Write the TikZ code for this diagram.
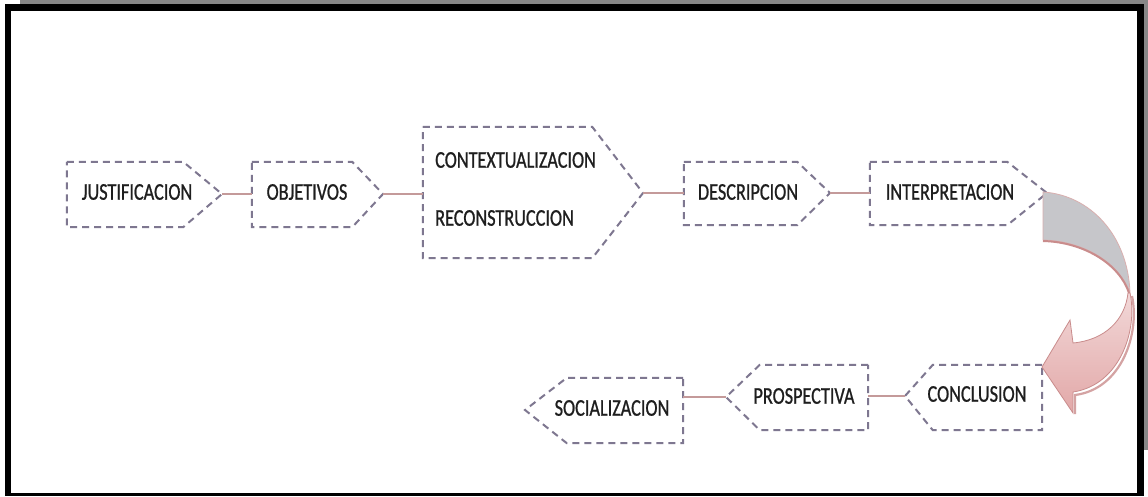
\documentclass[tikz,border=0pt]{standalone}
\usepackage{fontspec}
\setmainfont[FakeStretch=0.76,FakeBold=0.8]{Carlito}
\begin{document}
\begin{tikzpicture}[x=1pt,y=-1pt,
  box/.style={rectangle,draw=none,inner sep=0pt,minimum width=#1},
  outline/.style={draw=dashc,line width=2pt,dash pattern=on 7pt off 5pt},
  link/.style={draw=linkc,line width=1.5pt},
  lbl/.style={inner sep=0pt,text=txtc,font=\fontsize{24}{28}\selectfont},
]
\definecolor{dashc}{HTML}{7E7790}
\definecolor{linkc}{HTML}{C49A9A}
\definecolor{txtc}{HTML}{1E1E1E}
\definecolor{shadowc}{HTML}{878787}
\definecolor{greyband}{HTML}{C6C6CA}
\definecolor{pinktop}{HTML}{F2D8D8}
\definecolor{pinkbot}{HTML}{E2A8A8}
\definecolor{pinkedge}{HTML}{C98C8C}
\useasboundingbox (0,0) rectangle (1148,496);
% frame
\fill[shadowc] (20,0) rectangle (1148,4);
\fill[shadowc] (1144,0) rectangle (1148,450);
\fill[black] (5,4) rectangle (1144,496);
\fill[white] (11,11) rectangle (1137,493);

% top row boxes (straight parts)
\node[box=116pt,minimum height=65pt] (jus) at (125,194.5) {};
\coordinate (justip) at (222,194);
\node[box=100pt,minimum height=65pt] (obj) at (302,194.5) {};
\coordinate (objtip) at (383,194);
\node[box=169pt,minimum height=131pt] (con) at (507.5,192.5) {};
\coordinate (contip) at (643,193);
\node[box=113pt,minimum height=63pt] (des) at (740.5,193.5) {};
\coordinate (destip) at (830,193);
\node[box=137pt,minimum height=63pt] (int) at (938.5,193.5) {};
\coordinate (inttip) at (1047,193);
% bottom row
\node[box=109pt,minimum height=65pt] (clu) at (987.5,397.5) {};
\coordinate (clutip) at (905,396);
\node[box=108pt,minimum height=65pt] (pro) at (814,397.5) {};
\coordinate (protip) at (726,397);
\node[box=116pt,minimum height=65pt] (soc) at (625,410.5) {};
\coordinate (soctip) at (525,410);

% outlines
\foreach \n in {jus,obj,con,des,int}{
  \draw[outline] (\n.north west) -- (\n.north east) -- (\n tip) -- (\n.south east) -- (\n.south west) -- cycle;
}
\foreach \n in {clu,pro,soc}{
  \draw[outline] (\n.north east) -- (\n.north west) -- (\n tip) -- (\n.south west) -- (\n.south east) -- cycle;
}

% connectors
\draw[link] (justip) -- (justip -| obj.west);
\draw[link] (objtip) -- (objtip -| con.west);
\draw[link] (contip) -- (contip -| des.west);
\draw[link] (destip) -- (destip -| int.west);
\draw[link] (clutip) -- (clutip -| pro.east);
\draw[link] (protip) -- (protip -| soc.east);

% labels
\node[lbl] (tjus) at (137,192) {JUSTIFICACION};
\node[lbl] (tobj) at (307,192) {OBJETIVOS};
\node[lbl,anchor=west] (tcon1) at (435,160) {CONTEXTUALIZACION};
\node[lbl,anchor=west] (tcon2) at (435,218) {RECONSTRUCCION};
\node[lbl] (tdes) at (748,192) {DESCRIPCION};
\node[lbl] (tint) at (950,192) {INTERPRETACION};
\node[lbl] (tclu) at (977,394) {CONCLUSION};
\node[lbl] (tpro) at (804,396) {PROSPECTIVA};
\node[lbl] (tsoc) at (612,408) {SOCIALIZACION};

% curved twisted arrow
\filldraw[fill=greyband,draw=pinkedge!70,line width=0.8pt]
  (1043,192) .. controls (1090,195) and (1128,235) .. (1130,293)
  .. controls (1120,264) and (1085,241) .. (1043,240) -- cycle;
\draw[pinkedge,line width=2pt] (1043,241) .. controls (1085,242) and (1120,265) .. (1129,293);
\draw[pinkedge!80,line width=2.2pt] (1132,296) .. controls (1140,333) and (1122,389) .. (1075,395) -- (1075,414);
\shade[top color=pinktop,bottom color=pinkbot]
  (1130,293) .. controls (1138,330) and (1120,385) .. (1073,392) -- (1073,413) -- (1042,367)
  -- (1070,320) -- (1073,343) .. controls (1105,340) and (1125,320) .. (1128,293) -- cycle;
\draw[pinkedge,line width=0.8pt]
  (1130,293) .. controls (1138,330) and (1120,385) .. (1073,392) -- (1073,413) -- (1042,367)
  -- (1070,320) -- (1073,343) .. controls (1105,340) and (1125,320) .. (1128,293) -- cycle;
\end{tikzpicture}
\end{document}
